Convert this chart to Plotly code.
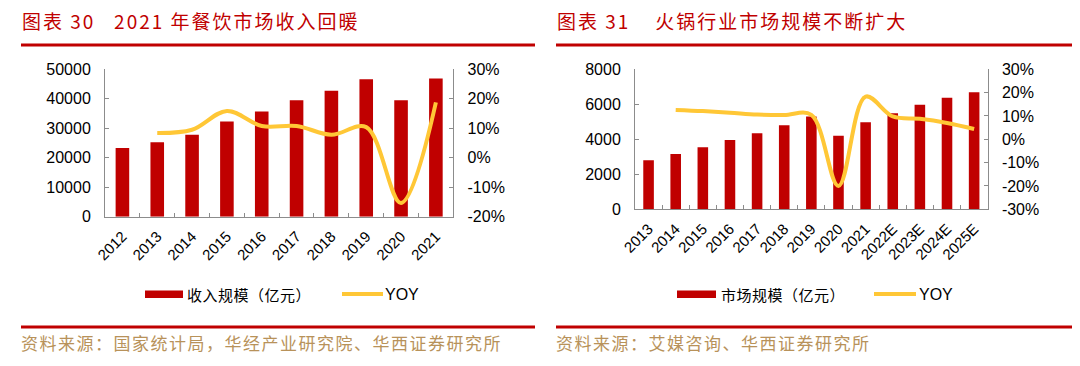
import plotly.graph_objects as go

# ---------------- data ----------------
years_left = ['2012', '2013', '2014', '2015', '2016', '2017', '2018', '2019', '2020', '2021']
revenue_left = [23300, 25300, 27800, 32300, 35700, 39500, 42700, 46600, 39500, 46900]
yoy_left = [None, 0.084, 0.095, 0.159, 0.108, 0.108, 0.078, 0.104, -0.153, 0.188]

years_right = ['2013', '2014', '2015', '2016', '2017', '2018', '2019', '2020', '2021',
               '2022E', '2023E', '2024E', '2025E']
size_right = [2800, 3160, 3540, 3960, 4340, 4800, 5300, 4210, 4970, 5490, 5980, 6380, 6690]
yoy_right = [None, 0.126, 0.121, 0.114, 0.106, 0.104, 0.105, -0.200, 0.183, 0.098, 0.088, 0.070, 0.044]

left_y_ticks = [0, 10000, 20000, 30000, 40000, 50000]
left_y2_vals = [-0.2, -0.1, 0.0, 0.1, 0.2, 0.3]
left_y2_text = ['-20%', '-10%', '0%', '10%', '20%', '30%']
right_y_ticks = [0, 2000, 4000, 6000, 8000]
right_y2_vals = [-0.3, -0.2, -0.1, 0.0, 0.1, 0.2, 0.3]
right_y2_text = ['-30%', '-20%', '-10%', '0%', '10%', '20%', '30%']

title_left = '图表 30\u00a0\u00a0 2021 年餐饮市场收入回暖'
title_right = '图表 31\u00a0\u00a0\u00a0 火锅行业市场规模不断扩大'
legend_bar_left = '收入规模（亿元）'
legend_bar_right = '市场规模（亿元）'
legend_line = 'YOY'
source_left = '资料来源：国家统计局，华经产业研究院、华西证券研究所'
source_right = '资料来源：艾媒咨询、华西证券研究所'

# ---------------- styles ----------------
W, H = 1080, 366
OFF = 8  # page body margin offset compensation
RED = '#C00000'
YEL = '#FFC736'
AXC = '#8C8C8C'
SRC = '#B8925A'
NUMFONT = 'Liberation Sans, Arial, sans-serif'
CJK = 'Noto Sans CJK SC, sans-serif'


def px(x):
    return (x - OFF) / W


def py(y):
    return 1 - (y - OFF) / H


fig = go.Figure()

fig.add_trace(go.Bar(x=years_left, y=revenue_left, marker=dict(color=RED, line=dict(width=0)),
                     xaxis='x', yaxis='y', name=legend_bar_left))
fig.add_trace(go.Scatter(x=years_left, y=yoy_left, mode='lines',
                         line=dict(color=YEL, width=4, shape='spline', smoothing=1),
                         xaxis='x', yaxis='y2', name=legend_line))
fig.add_trace(go.Bar(x=years_right, y=size_right, marker=dict(color=RED, line=dict(width=0)),
                     xaxis='x2', yaxis='y3', name=legend_bar_right))
fig.add_trace(go.Scatter(x=years_right, y=yoy_right, mode='lines',
                         line=dict(color=YEL, width=4, shape='spline', smoothing=1),
                         xaxis='x2', yaxis='y4', name=legend_line))

common_x = dict(type='category', showline=True, linecolor=AXC, linewidth=1, ticks='inside',
                tickson='boundaries', ticklen=4, tickcolor=AXC, tickangle=-45,
                tickfont=dict(family=NUMFONT, size=15, color='#000000'), showgrid=False,
                zeroline=False, fixedrange=True, automargin=False, ticklabelstandoff=4)
common_y = dict(showline=True, linecolor=AXC, linewidth=1, ticks='inside', ticklen=4,
                tickcolor=AXC, tickfont=dict(family=NUMFONT, size=16, color='#000000'),
                showgrid=False, zeroline=False, ticklabelstandoff=10, fixedrange=True,
                automargin=False)

LX = [px(105), px(453.3)]
LY = [py(216.8), py(69.3)]
RX = [px(635), px(987.7)]
RY = [py(209.3), py(69.3)]

fig.update_layout(
    width=W, height=H, autosize=False,
    margin=dict(l=0, r=0, t=0, b=0, pad=0, autoexpand=False),
    paper_bgcolor='white', plot_bgcolor='rgba(0,0,0,0)',
    showlegend=False, bargap=0.61,
    xaxis=dict(domain=LX, anchor='y', **common_x),
    yaxis=dict(domain=LY, anchor='x', range=[0, 50000], tickvals=left_y_ticks,
               tickformat='d', **common_y),
    yaxis2=dict(overlaying='y', side='right', anchor='x', range=[-0.2, 0.3],
                tickvals=left_y2_vals, ticktext=left_y2_text, **common_y),
    xaxis2=dict(domain=RX, anchor='y3', **common_x),
    yaxis3=dict(domain=RY, anchor='x2', range=[0, 8000], tickvals=right_y_ticks,
                tickformat='d', **common_y),
    yaxis4=dict(overlaying='y3', side='right', anchor='x2', range=[-0.3, 0.3],
                tickvals=right_y2_vals, ticktext=right_y2_text, **common_y),
)

shapes = []
# header / footer rules
for (x0, x1) in [(21, 535), (556, 1072)]:
    shapes.append(dict(type='line', xref='paper', yref='paper', x0=px(x0), x1=px(x1),
                       y0=py(45), y1=py(45), line=dict(color=RED, width=3)))
    shapes.append(dict(type='line', xref='paper', yref='paper', x0=px(x0), x1=px(x1),
                       y0=py(327), y1=py(327), line=dict(color=RED, width=3)))
# manual legends
for (bx0, bx1, lx0, lx1) in [(145, 183, 342, 383), (677, 716, 874, 916)]:
    shapes.append(dict(type='rect', xref='paper', yref='paper', x0=px(bx0), x1=px(bx1),
                       y0=py(298), y1=py(290.5), fillcolor=RED, line=dict(width=0)))
    shapes.append(dict(type='line', xref='paper', yref='paper', x0=px(lx0), x1=px(lx1),
                       y0=py(294), y1=py(294), line=dict(color=YEL, width=4)))

annotations = []


def add_text(text, x, y, size, color, family, spacing=None):
    t = text
    if spacing is not None:
        t = '<span style="letter-spacing:%spx">%s</span>' % (spacing, text)
    annotations.append(dict(text=t, xref='paper', yref='paper', x=px(x), y=py(y),
                            xanchor='left', yanchor='middle', showarrow=False,
                            font=dict(size=size, color=color, family=family), borderpad=0))


add_text(title_left, 21, 20.5, 19, RED, CJK, 2)
add_text(title_right, 556, 20.5, 19, RED, CJK, 2)
add_text(legend_bar_left, 186, 294, 15, '#000000', CJK, 0.5)
add_text(legend_bar_right, 720, 294, 15, '#000000', CJK, 0.5)
add_text(legend_line, 384, 294, 16, '#000000', NUMFONT)
add_text(legend_line, 918, 294, 16, '#000000', NUMFONT)
add_text(source_left, 20, 342, 17, SRC, CJK, 1.5)
add_text(source_right, 555, 342, 17, SRC, CJK, 1.5)

fig.update_layout(shapes=shapes, annotations=annotations)

fig.write_html('out.html')
